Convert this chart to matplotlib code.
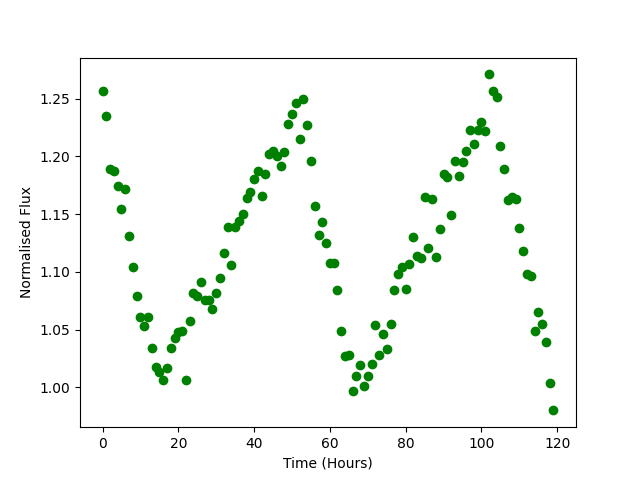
import numpy as np
import matplotlib
matplotlib.use("Agg")
import matplotlib.pyplot as plt

# Time in hours (one sample per hour)
hours = list(range(120))

# Normalised flux
flux = [
    1.257, 1.235, 1.189, 1.187, 1.174, 1.154, 1.172, 1.131, 1.104, 1.079,
    1.061, 1.053, 1.061, 1.034, 1.018, 1.013, 1.006, 1.017, 1.034, 1.043,
    1.048, 1.049, 1.006, 1.057, 1.082, 1.079, 1.091, 1.076, 1.076, 1.068,
    1.082, 1.095, 1.116, 1.139, 1.106, 1.139, 1.144, 1.150, 1.164, 1.169,
    1.180, 1.187, 1.166, 1.185, 1.202, 1.205, 1.200, 1.192, 1.204, 1.228,
    1.237, 1.246, 1.215, 1.250, 1.227, 1.196, 1.157, 1.132, 1.143, 1.125,
    1.108, 1.108, 1.084, 1.049, 1.027, 1.028, 0.997, 1.010, 1.019, 1.001,
    1.010, 1.020, 1.054, 1.028, 1.046, 1.033, 1.055, 1.084, 1.098, 1.104,
    1.085, 1.107, 1.130, 1.114, 1.112, 1.165, 1.121, 1.163, 1.113, 1.137,
    1.185, 1.182, 1.149, 1.196, 1.183, 1.195, 1.205, 1.223, 1.211, 1.223,
    1.230, 1.222, 1.271, 1.257, 1.251, 1.209, 1.189, 1.162, 1.165, 1.163,
    1.138, 1.118, 1.098, 1.096, 1.049, 1.065, 1.055, 1.039, 1.004, 0.980,
]

plt.figure(figsize=(6.4, 4.8), dpi=100)
plt.plot(hours, flux, 'go')
plt.xlabel("Time (Hours)")
plt.ylabel("Normalised Flux")
plt.savefig("out.png")
